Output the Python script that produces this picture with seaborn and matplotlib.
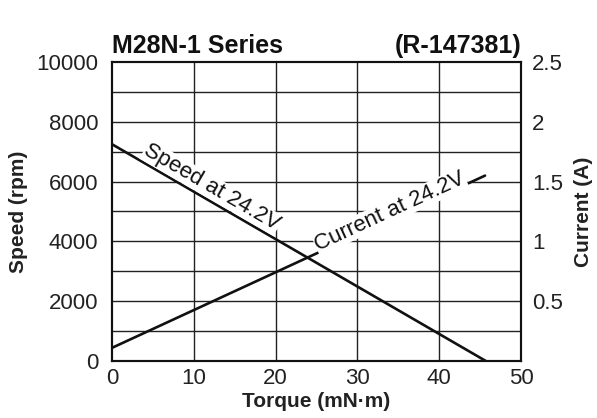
import matplotlib
matplotlib.use("Agg")
import matplotlib.pyplot as plt
import seaborn as sns
import pandas as pd

torque = [0, 45.7]
speed = [7250, 0]
current_torque = [0, 45.6]
current = [0.11, 1.55]
x_ticks = [0, 10, 20, 30, 40, 50]
speed_ticks = [0, 2000, 4000, 6000, 8000, 10000]
current_ticks = [0.5, 1, 1.5, 2, 2.5]
current_tick_labels = ["0.5", "1", "1.5", "2", "2.5"]

sns.set_theme(style="white")
plt.rcParams['font.family'] = ['Liberation Sans', 'DejaVu Sans']

fig = plt.figure(figsize=(5.97, 4.18), dpi=100)
ax = fig.add_axes([112/597, 1-361/418, (521-112)/597, (361-62)/418])
ax2 = ax.twinx()

df_s = pd.DataFrame({"torque": torque, "speed": speed})
df_c = pd.DataFrame({"torque": current_torque, "current": current})

ax.set_xlim(0, 50)
ax.set_ylim(0, 10000)
ax2.set_ylim(0, 2.5)
for yv in range(1000, 10000, 1000):
    ax.axhline(yv, color="#222222", lw=1.0, zorder=1)
for xv in [10, 20, 30, 40]:
    ax.axvline(xv, color="#222222", lw=1.0, zorder=1)

sns.lineplot(data=df_s, x="torque", y="speed", ax=ax, color="#111111", lw=1.9, zorder=3)
sns.lineplot(data=df_c, x="torque", y="current", ax=ax2, color="#111111", lw=1.9, zorder=3)

ax.set_xticks(x_ticks)
ax.set_yticks(speed_ticks)
ax2.set_yticks(current_ticks)
ax2.set_yticklabels(current_tick_labels)

for a in (ax, ax2):
    for s in a.spines.values():
        s.set_color("#111111")
        s.set_linewidth(1.5)
    a.tick_params(length=0, labelsize=16, colors="#222222")
ax.tick_params(axis="y", pad=10)
ax.tick_params(axis="x", pad=5)
ax2.tick_params(axis="y", pad=8)
ax.grid(False)
ax2.grid(False)

ax.set_xlabel("Torque (mN·m)", fontsize=15, fontweight="bold", color="#222222", labelpad=2)
ax.set_ylabel("Speed (rpm)", fontsize=15, fontweight="bold", color="#222222", labelpad=6)
ax2.set_ylabel("Current (A)", fontsize=15, fontweight="bold", color="#222222", labelpad=8)

ax.text(0, 1.012, "M28N-1 Series", transform=ax.transAxes, ha="left", va="bottom",
        fontsize=18, fontweight="bold", color="#111111")
ax.text(1.0, 1.012, "(R-147381)", transform=ax.transAxes, ha="right", va="bottom",
        fontsize=18, fontweight="bold", color="#111111")

bbox = dict(facecolor="white", edgecolor="none", pad=0.5)
ax.text(12.2, 5800, "Speed at 24.2V", rotation=-30, ha="center", va="center",
        fontsize=16, color="#111111", bbox=bbox, zorder=4, rotation_mode="anchor")
ax2.text(34.0, 1.25, "Current at 24.2V", rotation=24.8, ha="center", va="center",
         fontsize=16, color="#111111", bbox=bbox, zorder=4, rotation_mode="anchor")

fig.savefig("out.png", dpi=100)
